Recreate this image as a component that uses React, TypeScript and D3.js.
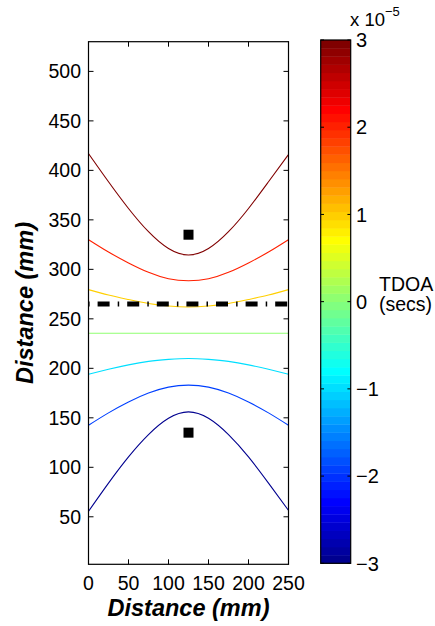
import React, { useEffect, useRef } from 'react';
import * as d3 from 'd3';

// sample positions along the horizontal axis (mm)
const xSamples = [0, 25, 50, 75, 100, 125, 150, 175, 200, 225, 250];

// TDOA contour levels (x 1e-5 s) and the curves (mm)
const tdoaLevels = [3, 2, 1, 0, -1, -2, -3];
const curvePos3 = [417, 388.5, 361.5, 338, 321, 314.5, 321, 338, 361.5, 388.5, 416];
const curvePos2 = [330, 317.5, 306.5, 297, 290.5, 288.5, 290.5, 297, 306.5, 317.5, 330];
const curvePos1 = [279.5, 274, 269.5, 265.5, 263, 262, 263, 265.5, 269.5, 274, 279.5];
const curveZero = [235.5, 235.5, 235.5, 235.5, 235.5, 235.5, 235.5, 235.5, 235.5, 235.5, 235.5];
const curveNeg1 = [194, 199, 203.5, 207, 209, 210, 209, 207, 203.5, 199, 194];
const curveNeg2 = [142.5, 155, 166, 175, 181, 183, 181, 175, 166, 155, 142.5];
const curveNeg3 = [55.5, 84, 110.5, 133, 149.5, 156, 149.5, 133, 110.5, 84, 56.5];
const curves = [curvePos3, curvePos2, curvePos1, curveZero, curveNeg1, curveNeg2, curveNeg3];

// microphones and the array line
const sensorX = [125, 125];
const sensorY = [335, 135];
const arrayLineY = 265;

const xTicks = [0, 50, 100, 150, 200, 250];
const yTicks = [50, 100, 150, 200, 250, 300, 350, 400, 450, 500];
const cbTicks = [3, 2, 1, 0, -1, -2, -3];

const FONT = 'Liberation Sans, Arial, Helvetica, sans-serif';

// matlab jet(m)
function jet(m: number) {
    const n = Math.ceil(m / 4);
    const u: number[] = [];
    for (let i = 1; i <= n; i++) u.push(i / n);
    for (let i = 1; i < n; i++) u.push(1);
    for (let i = n; i >= 1; i--) u.push(i / n);
    const off = Math.ceil(n / 2) - (m % 4 === 1 ? 1 : 0);
    const rows = d3.range(m).map(() => [0, 0, 0]);
    u.forEach((val, k) => {
        const g = off + k + 1;
        const r = g + n;
        const b = g - n;
        if (g >= 1 && g <= m) rows[g - 1][1] = val;
        if (r >= 1 && r <= m) rows[r - 1][0] = val;
        if (b >= 1 && b <= m) rows[b - 1][2] = val;
    });
    return rows.map(c => d3.rgb(c[0] * 255, c[1] * 255, c[2] * 255).formatHex());
}

const App = () => {
    const ref = useRef<SVGSVGElement | null>(null);

    useEffect(() => {
        const svg = d3.select(ref.current);
        svg.selectAll('*').remove();

        const left = 88.5, right = 288.5, top = 41.7, bottom = 564.3;
        const x = d3.scaleLinear().domain([0, 250]).range([left, right]);
        const y = d3.scaleLinear().domain([2, 530]).range([bottom, top]);

        const cmap = jet(64);
        const levelColor = (v: number) => cmap[Math.round((v + 3) / 6 * 63)];

        svg.append('defs').append('clipPath').attr('id', 'plotclip')
            .append('rect')
            .attr('x', left).attr('y', top)
            .attr('width', right - left).attr('height', bottom - top);

        const plot = svg.append('g').attr('clip-path', 'url(#plotclip)');

        // contour curves
        const line = d3.line<number>()
            .x((d, i) => x(xSamples[i]))
            .y(d => y(d))
            .curve(d3.curveNatural);

        curves.forEach((c, i) => {
            plot.append('path')
                .attr('d', line(c))
                .attr('fill', 'none')
                .attr('stroke', levelColor(tdoaLevels[i]))
                .attr('stroke-width', 1.1);
        });

        // array line, dash-dot
        plot.append('line')
            .attr('x1', x(0)).attr('x2', x(250))
            .attr('y1', y(arrayLineY)).attr('y2', y(arrayLineY))
            .attr('stroke', '#000')
            .attr('stroke-width', 5)
            .attr('stroke-dasharray', '1.5,8,12,8.1')
            .attr('stroke-dashoffset', 0.4);

        // sensors
        plot.selectAll('.sensor')
            .data(sensorX)
            .enter().append('rect')
            .attr('x', (d) => x(d) - 5)
            .attr('y', (d, i) => y(sensorY[i]) - 5)
            .attr('width', 10)
            .attr('height', 10)
            .attr('fill', '#000');

        // axes box
        svg.append('rect')
            .attr('x', left).attr('y', top)
            .attr('width', right - left).attr('height', bottom - top)
            .attr('fill', 'none')
            .attr('stroke', '#000')
            .attr('stroke-width', 1.2);

        const tickLen = 5;
        xTicks.forEach(t => {
            svg.append('line').attr('x1', x(t)).attr('x2', x(t))
                .attr('y1', bottom).attr('y2', bottom - tickLen).attr('stroke', '#000');
            svg.append('line').attr('x1', x(t)).attr('x2', x(t))
                .attr('y1', top).attr('y2', top + tickLen).attr('stroke', '#000');
            svg.append('text')
                .attr('x', x(t)).attr('y', 590)
                .attr('text-anchor', 'middle')
                .attr('font-family', FONT).attr('font-size', 19.5)
                .text(t);
        });

        yTicks.forEach(t => {
            svg.append('line').attr('x1', left).attr('x2', left + tickLen)
                .attr('y1', y(t)).attr('y2', y(t)).attr('stroke', '#000');
            svg.append('line').attr('x1', right).attr('x2', right - tickLen)
                .attr('y1', y(t)).attr('y2', y(t)).attr('stroke', '#000');
            svg.append('text')
                .attr('x', 81).attr('y', y(t))
                .attr('dy', '0.36em')
                .attr('text-anchor', 'end')
                .attr('font-family', FONT).attr('font-size', 19.5)
                .text(t);
        });

        // axis labels
        svg.append('text')
            .attr('x', (left + right) / 2).attr('y', 616)
            .attr('text-anchor', 'middle')
            .attr('font-family', FONT).attr('font-size', 23.5)
            .attr('font-weight', 'bold').attr('font-style', 'italic')
            .text('Distance (mm)');

        svg.append('text')
            .attr('transform', 'translate(33,' + (top + bottom) / 2 + ') rotate(-90)')
            .attr('text-anchor', 'middle')
            .attr('font-family', FONT).attr('font-size', 23.5)
            .attr('font-weight', 'bold').attr('font-style', 'italic')
            .text('Distance (mm)');

        // colorbar
        const cbLeft = 320.7, cbRight = 350.7;
        const cy = d3.scaleLinear().domain([-3, 3]).range([563.3, 40]);
        const step = 6 / 64;
        cmap.forEach((c, i) => {
            const v0 = -3 + i * step;
            svg.append('rect')
                .attr('x', cbLeft).attr('width', cbRight - cbLeft)
                .attr('y', cy(v0 + step)).attr('height', cy(v0) - cy(v0 + step) + 0.4)
                .attr('fill', c);
        });
        svg.append('rect')
            .attr('x', cbLeft).attr('y', cy(3))
            .attr('width', cbRight - cbLeft).attr('height', cy(-3) - cy(3))
            .attr('fill', 'none').attr('stroke', '#000').attr('stroke-width', 1.2);

        cbTicks.forEach(t => {
            svg.append('line').attr('x1', cbLeft).attr('x2', cbLeft + 3.3)
                .attr('y1', cy(t)).attr('y2', cy(t)).attr('stroke', '#000');
            svg.append('line').attr('x1', cbRight).attr('x2', cbRight - 3.3)
                .attr('y1', cy(t)).attr('y2', cy(t)).attr('stroke', '#000');
            svg.append('text')
                .attr('x', 356).attr('y', cy(t))
                .attr('dy', '0.36em')
                .attr('font-family', FONT).attr('font-size', 20)
                .text(t < 0 ? '\u2212' + Math.abs(t) : String(t));
        });

        const expo = svg.append('text')
            .attr('x', 350).attr('y', 25.5)
            .attr('font-family', FONT).attr('font-size', 18.5);
        expo.append('tspan').text('x 10');
        expo.append('tspan').attr('dy', -10).attr('font-size', 13).text('\u22125');

        svg.append('text')
            .attr('x', 379).attr('y', 291)
            .attr('font-family', FONT).attr('font-size', 19.5)
            .text('TDOA');
        svg.append('text')
            .attr('x', 379).attr('y', 311)
            .attr('font-family', FONT).attr('font-size', 19.5)
            .text('(secs)');
    }, []);

    return (
        <div style={{ position: 'absolute', left: 0, top: 0 }}>
            <svg ref={ref} width={435} height={626} style={{ display: 'block', background: '#fff' }} />
        </div>
    );
};

export default App;
